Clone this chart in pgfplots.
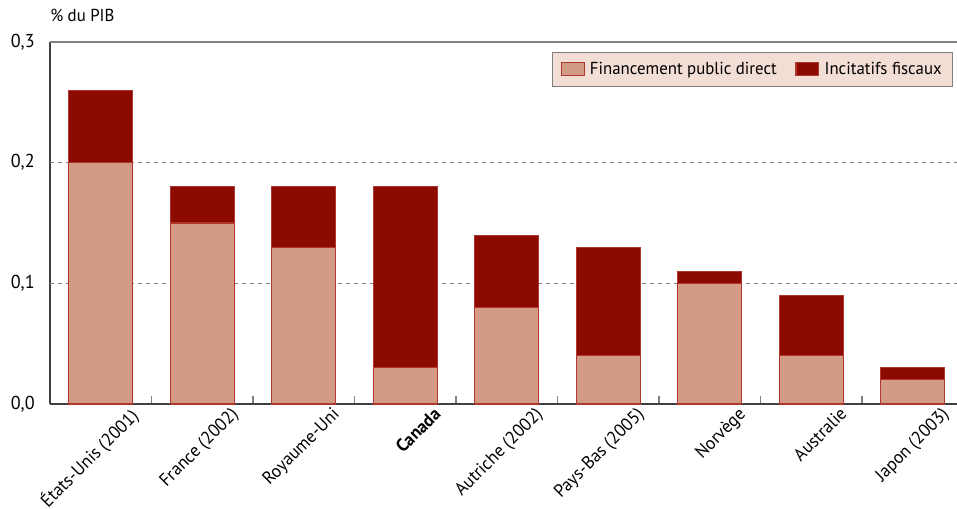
\documentclass[border=0pt]{standalone}
\usepackage{pgfplots}
\pgfplotsset{compat=1.18}
\usepackage{fontspec}
\setmainfont{PT Sans}[FakeStretch=0.97]
\definecolor{light}{RGB}{211,154,133}
\definecolor{dark}{RGB}{140,10,0}
\definecolor{edge}{RGB}{175,55,45}
\definecolor{legfill}{RGB}{243,222,213}
\begin{document}
\fontsize{13}{15}\selectfont
\begin{tikzpicture}
\begin{axis}[
  scale only axis,
  width=680.25pt, height=271.5pt,
  xmin=-0.5, xmax=8.436,
  ymin=0, ymax=0.3,
  ybar stacked, bar width=48pt,
  axis x line=bottom, axis y line=left,
  axis line style={-, draw=black!75, line width=0.8pt},
  xtick={0.27,1.27,2.27,3.27,4.27,5.27,6.27,7.27,8.27},
  xticklabels={États-Unis (2001),France (2002),Royaume-Uni,\textbf{Canada},Autriche (2002),Pays-Bas (2005),Norvège,Australie,Japon (2003)},
  xticklabel style={rotate=45, anchor=north east, inner sep=1pt, font=\fontsize{13.5}{15}\selectfont},
  minor xtick={0.5,1.5,2.5,3.5,4.5,5.5,6.5,7.5},
  major x tick style={draw=none},
  minor x tick style={draw=gray, line width=0.8pt},
  minor tick length=6pt,
  tick align=inside,
  ytick={0,0.1,0.2,0.3},
  ytick style={draw=none},
  /pgf/number format/fixed,
  /pgf/number format/fixed zerofill,
  /pgf/number format/precision=1,
  /pgf/number format/use comma,
  /pgf/number format/assume math mode=true,
  yticklabel style={xshift=-7pt, font=\fontsize{14}{15}\selectfont},
  extra y ticks={0.1,0.2},
  extra y tick labels={},
  extra y tick style={ymajorgrids=true, major grid style={dashed, draw=gray, line width=0.8pt}},
  legend columns=2,
  legend style={at={(1,1)}, anchor=north east, xshift=-3pt, yshift=-7.5pt, fill=legfill, draw=gray, line width=0.8pt, font=\fontsize{13}{15}\selectfont, column sep=2pt, inner xsep=6pt, inner ysep=5pt, /tikz/every even column/.append style={column sep=12pt}},
  legend image code/.code={\draw[#1, line width=0.8pt] (0cm,-0.17cm) rectangle (0.6cm,0.17cm);},
  clip=false,
]
\addplot[fill=light, draw=edge, line width=0.8pt] coordinates {(0,0.20) (1,0.15) (2,0.13) (3,0.03) (4,0.08) (5,0.04) (6,0.10) (7,0.04) (8,0.02)};
\addlegendentry{Financement public direct}
\addplot[fill=dark, draw=edge, line width=0.8pt] coordinates {(0,0.06) (1,0.03) (2,0.05) (3,0.15) (4,0.06) (5,0.09) (6,0.01) (7,0.05) (8,0.01)};
\addlegendentry{Incitatifs fiscaux}
\draw[gray, line width=0.8pt] (rel axis cs:0,1) -- (rel axis cs:1,1);
\node[anchor=base west, inner sep=0pt] at ([yshift=15.75pt]rel axis cs:0,1) {\% du PIB};
\end{axis}
\pgfresetboundingbox
\path (current axis.south west) ++(-37.5pt,-78pt) rectangle ([yshift=31.5pt]current axis.north east);
\end{tikzpicture}
\end{document}
